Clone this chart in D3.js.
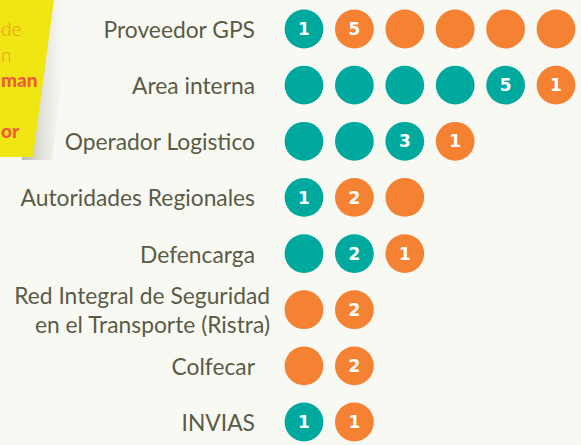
<!DOCTYPE html>
<html>
<head>
<meta charset="utf-8">
<script src="https://cdn.jsdelivr.net/npm/d3@7"></script>
<style>
  html, body { margin: 0; padding: 0; background: #f9f9f4; }
  svg { display: block; }
</style>
</head>
<body>
<div id="chart"></div>
<script>
// ---- data ----
const categories = [
  "Proveedor GPS",
  "Area interna",
  "Operador Logistico",
  "Autoridades Regionales",
  "Defencarga",
  "Red Integral de Seguridad\nen el Transporte (Ristra)",
  "Colfecar",
  "INVIAS"
];
// each entry = one circle; "" = full circle, digit = partial circle with number
const tealMarks = [
  ["1"],
  ["", "", "", "", "5"],
  ["", "", "3"],
  ["1"],
  ["", "2"],
  [],
  [],
  ["1"]
];
const orangeMarks = [
  ["5", "", "", "", ""],
  ["1"],
  ["1"],
  ["2", ""],
  ["1"],
  ["", "2"],
  ["", "2"],
  ["1"]
];
const noteLines = ["de", "n", "man", "", "or"];

// ---- layout ----
const W = 581, H = 445;
const teal = "#00a99d", orange = "#f58233";
const svg = d3.select("#chart").append("svg").attr("width", W).attr("height", H);

svg.append("rect").attr("width", W).attr("height", H).attr("fill", "#f9f9f4");

// yellow note (cropped at the left edge)
const defs = svg.append("defs");
const grad = defs.append("linearGradient").attr("id", "shadow").attr("x1", 0).attr("x2", 1);
grad.append("stop").attr("offset", 0).attr("stop-color", "#b0b0aa").attr("stop-opacity", 0.9);
grad.append("stop").attr("offset", 1).attr("stop-color", "#f9f9f4").attr("stop-opacity", 0);
svg.append("polygon").attr("points", "42,0 72,0 52,160 22,160").attr("fill", "url(#shadow)");
svg.append("polygon").attr("points", "0,0 54,0 33,157 0,157").attr("fill", "#f0e614");
const noteStyle = [
  {w: 300, c: "#f7902a"}, {w: 300, c: "#f7902a"}, {w: 900, c: "#f15a3a"}, {w: 300, c: "#f7902a"}, {w: 900, c: "#f15a3a"}
];
svg.append("g").selectAll("text").data(noteLines).join("text")
  .attr("x", 1)
  .attr("y", (d, i) => 36 + i * 25.5)
  .attr("font-family", "Lato, 'Open Sans', sans-serif")
  .attr("font-size", 19)
  .attr("font-weight", (d, i) => noteStyle[i].w)
  .attr("fill", (d, i) => noteStyle[i].c)
  .text(d => d);

// scales
const y = d3.scalePoint().domain(categories).range([29, 422]);
const x = d3.scaleLinear().domain([0, 5]).range([304, 556]);
const r = 19.4;

// labels
const labels = svg.append("g").selectAll("text").data(categories).join("text")
  .attr("text-anchor", "end")
  .attr("font-family", "Lato, 'Open Sans', sans-serif")
  .attr("font-size", 22.8)
  .attr("fill", "#5a5b45");
labels.each(function(d) {
  const lines = d.split("\n");
  const t = d3.select(this);
  lines.forEach((ln, i) => {
    t.append("tspan")
      .attr("x", lines.length > 1 ? 270 : 255)
      .attr("y", y(d) + 9 + (i - (lines.length - 1) / 2) * 28.5)
      .text(ln);
  });
});

// dots
const rows = categories.map((c, i) => {
  const marks = tealMarks[i].map(v => ({v, color: teal}))
    .concat(orangeMarks[i].map(v => ({v, color: orange})));
  return marks.map((m, j) => ({cat: c, col: j, v: m.v, color: m.color}));
});
const dots = svg.append("g").selectAll("g").data(rows.flat()).join("g")
  .attr("transform", d => `translate(${x(d.col)},${y(d.cat)})`);
dots.append("circle").attr("r", r).attr("fill", d => d.color);
dots.filter(d => d.v !== "").append("text")
  .attr("text-anchor", "middle")
  .attr("dy", "0.36em")
  .attr("font-family", "'DejaVu Sans', sans-serif")
  .attr("font-weight", "bold")
  .attr("font-size", 17)
  .attr("fill", "#ffffff")
  .text(d => d.v);
</script>
</body>
</html>
